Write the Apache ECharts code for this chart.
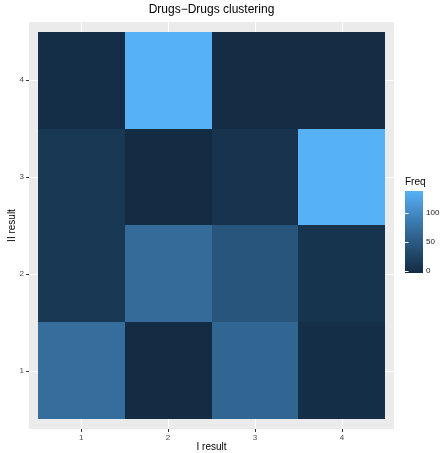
<!DOCTYPE html>
<html><head><meta charset="utf-8">
<script src="https://cdn.jsdelivr.net/npm/echarts@6.0.0/dist/echarts.min.js"></script>
<style>html,body{margin:0;padding:0;background:#fff}#c{width:441px;height:453px}</style>
</head><body><div id="c"></div>
<script>
// I result (x) categories and II result (y) categories
const xCategories = [1, 2, 3, 4];
const yCategories = [1, 2, 3, 4];
// Freq per row (II result = 1..4), columns I result = 1..4
const freqRow1 = [70, 0, 63, 3];
const freqRow2 = [14, 68, 45, 10];
const freqRow3 = [14, 0, 9, 134];
const freqRow4 = [3, 134, 2, 2];
const legendTicks = [0, 50, 100];
const gradientColors = ['#132B43', '#224A6C', '#336A98', '#448CC6', '#56B1F7'];

const rows = [freqRow1, freqRow2, freqRow3, freqRow4];
const data = [];
rows.forEach((row, yi) => row.forEach((v, xi) => data.push([xCategories[xi], yCategories[yi], v])));
const allVals = data.map(d => d[2]);
const vMin = Math.min(...allVals), vMax = Math.max(...allVals);
const halfBin = (vMax - vMin) / 38;

const FONT = 'Liberation Sans, Arial, sans-serif';
const chart = echarts.init(document.getElementById('c'), null, {renderer: 'canvas'});

const stops = gradientColors.map((c, i) => ({offset: i / (gradientColors.length - 1), color: c}));

chart.setOption({
  animation: false,
  textStyle: {fontFamily: FONT},
  graphic: [
    {type: 'text', x: 211.5, y: 4, style: {text: 'Drugs\u2212Drugs clustering', fontSize: 12, fontFamily: FONT, fill: '#000', textAlign: 'center', textVerticalAlign: 'top'}},
    {type: 'text', x: 405, y: 177, style: {text: 'Freq', fontSize: 10, fontFamily: FONT, fill: '#000', textAlign: 'left', textVerticalAlign: 'top'}}
  ],
  grid: [
    {left: 29, right: 47, top: 22, bottom: 24, show: true, backgroundColor: '#EBEBEB', borderWidth: 0,
     containLabel: false, outerBoundsMode: 'none'},
    {left: 405, width: 18, top: 191, height: 82, show: true, borderWidth: 0,
     backgroundColor: new echarts.graphic.LinearGradient(0, 1, 0, 0, stops), containLabel: false, outerBoundsMode: 'none'}
  ],
  xAxis: [
    {type: 'value', gridIndex: 0, min: 0.4, max: 4.6,
     axisLine: {show: false},
     axisTick: {show: true, length: 3, customValues: xCategories, lineStyle: {color: '#333333', width: 1}},
     axisLabel: {show: true, customValues: xCategories, fontSize: 8, color: '#4D4D4D', margin: 5, fontFamily: FONT},
     splitLine: {show: true, lineStyle: {color: '#FFFFFF', width: 1.1}},
     name: 'I result', nameLocation: 'middle', nameGap: 13, nameMoveOverlap: false,
     nameTextStyle: {fontSize: 10, color: '#000', fontFamily: FONT}},
    {type: 'value', gridIndex: 1, min: 0, max: 1, show: false}
  ],
  yAxis: [
    {type: 'value', gridIndex: 0, min: 0.4, max: 4.6,
     axisLine: {show: false},
     axisTick: {show: true, length: 3, customValues: yCategories, lineStyle: {color: '#333333', width: 1}},
     axisLabel: {show: true, customValues: yCategories, fontSize: 8, color: '#4D4D4D', margin: 5, fontFamily: FONT},
     splitLine: {show: true, lineStyle: {color: '#FFFFFF', width: 1.1}},
     name: 'II result', nameLocation: 'middle', nameGap: 12, nameRotate: 90, nameMoveOverlap: false,
     nameTextStyle: {fontSize: 10, color: '#000', fontFamily: FONT}},
    {type: 'value', gridIndex: 1, position: 'right', min: vMin - halfBin, max: vMax + halfBin,
     axisLine: {show: false},
     axisTick: {show: true, inside: true, length: 3.5, customValues: legendTicks, lineStyle: {color: '#FFFFFF', width: 1}},
     axisLabel: {show: true, customValues: legendTicks, fontSize: 8, color: '#1A1A1A', margin: 3, fontFamily: FONT},
     splitLine: {show: false}},
    {type: 'value', gridIndex: 1, position: 'left', min: vMin - halfBin, max: vMax + halfBin,
     axisLine: {show: false},
     axisTick: {show: true, inside: true, length: 3.5, customValues: legendTicks, lineStyle: {color: '#FFFFFF', width: 1}},
     axisLabel: {show: false},
     splitLine: {show: false}}
  ],
  visualMap: {
    type: 'continuous', show: false, min: vMin, max: vMax, dimension: 2, seriesIndex: 0,
    inRange: {color: gradientColors}
  },
  series: [{
    type: 'custom', xAxisIndex: 0, yAxisIndex: 0, data: data,
    renderItem: function (params, api) {
      const x = api.value(0), y = api.value(1);
      const p0 = api.coord([x - 0.5, y + 0.5]);
      const p1 = api.coord([x + 0.5, y - 0.5]);
      const x0 = Math.round(p0[0]), y0 = Math.round(p0[1]);
      const x1 = Math.round(p1[0]), y1 = Math.round(p1[1]);
      return {type: 'rect', shape: {x: x0, y: y0, width: x1 - x0, height: y1 - y0},
              style: {fill: api.visual('color')}};
    },
    encode: {x: 0, y: 1}
  }]
});
</script>
</body></html>
